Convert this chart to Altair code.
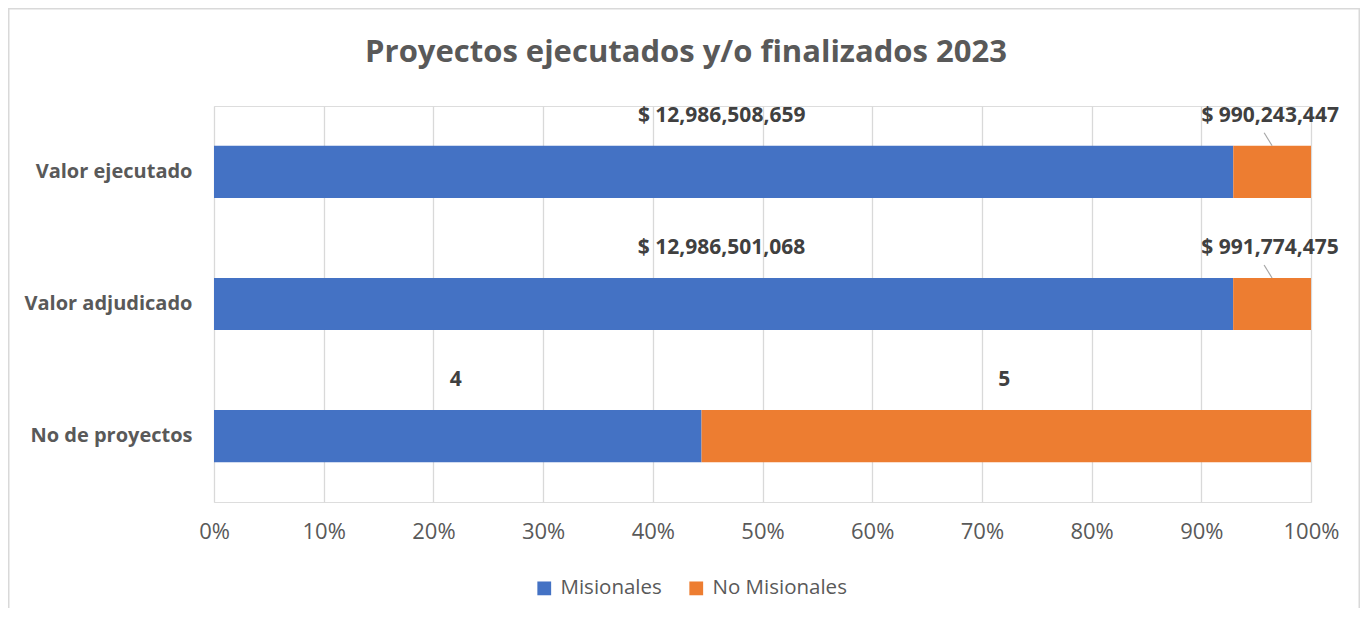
import altair as alt
import pandas as pd

title_text = "Proyectos ejecutados y/o finalizados 2023"
categories = ["Valor ejecutado", "Valor adjudicado", "No de proyectos"]
series = ["Misionales", "No Misionales"]
misionales = [12986508659, 12986501068, 4]
no_misionales = [990243447, 991774475, 5]
labels_mis = ["$ 12,986,508,659", "$ 12,986,501,068", "4"]
labels_no = ["$ 990,243,447", "$ 991,774,475", "5"]
leader = [True, True, False]
x_ticks = [0, 0.1, 0.2, 0.3, 0.4, 0.5, 0.6, 0.7, 0.8, 0.9, 1.0]

rows = []
for i, c in enumerate(categories):
    rows.append({"cat": c, "serie": series[0], "value": misionales[i], "label": labels_mis[i], "order": 0, "leader": False})
    rows.append({"cat": c, "serie": series[1], "value": no_misionales[i], "label": labels_no[i], "order": 1, "leader": leader[i]})
df = pd.DataFrame(rows)

FONT = "Open Sans"
GRAY = "#595959"

base = alt.Chart(df).transform_stack(
    stack="value", groupby=["cat"], sort=[alt.SortField("order")],
    as_=["v0", "v1"], offset="normalize"
).transform_calculate(mid="(datum.v0 + datum.v1) / 2")

y_enc = alt.Y("cat:N", sort=categories, title=None,
              scale=alt.Scale(paddingInner=0.605, paddingOuter=0.3),
              axis=alt.Axis(labelFont=FONT, labelFontSize=20, labelFontWeight="bold",
                            labelColor=GRAY, labelPadding=22, ticks=False, domain=False))

bars = base.mark_bar().encode(
    x=alt.X("v0:Q", title=None, scale=alt.Scale(domain=[0, 1], nice=False),
            axis=alt.Axis(format=".0%", values=x_ticks, labelFont=FONT, labelFontSize=22,
                          labelColor=GRAY, labelPadding=19, labelFlush=False, ticks=False,
                          domain=False, gridColor="#d9d9d9", gridWidth=1.3)),
    x2="v1:Q",
    y=y_enc,
    color=alt.Color("serie:N", scale=alt.Scale(domain=series, range=["#4472C4", "#ED7D31"]),
                    legend=alt.Legend(title=None, orient="none", legendX=320, legendY=472,
                                      direction="horizontal", symbolType="square", symbolSize=190,
                                      symbolStrokeWidth=0, labelFont=FONT, labelFontSize=20.5,
                                      labelColor=GRAY, labelOffset=6, columnPadding=24)),
)

text = base.mark_text(font=FONT, fontSize=21, fontWeight="bold", color="#404040",
                      baseline="middle", dy=-56, dx=-2).encode(
    x=alt.X("mid:Q"),
    y=alt.Y("cat:N", sort=categories),
    text="label:N",
)

lines = base.transform_filter("datum.leader").mark_rule(
    color="#a6a6a6", strokeWidth=1.2, yOffset=-26, y2Offset=-39, x2Offset=-8
).encode(
    x="mid:Q", x2="mid:Q",
    y=alt.Y("cat:N", sort=categories), y2="cat:N",
)

frame = alt.Chart(pd.DataFrame({"k": [0]})).mark_rect(
    fill="white", fillOpacity=0, stroke="#d9d9d9", strokeWidth=1.5
).encode(x=alt.value(-205.25), x2=alt.value(1145.25), y=alt.value(-97.25), y2=alt.value(620))

title = alt.Chart(pd.DataFrame({"t": [title_text]})).mark_text(
    font=FONT, fontSize=31, fontWeight="bold", color=GRAY, align="center", baseline="middle"
).encode(x=alt.value(472), y=alt.value(-53), text="t:N")

chart = alt.layer(frame, bars, lines, text, title).properties(
    width=1097, height=396,
    autosize=alt.AutoSizeParams(type="none"),
    padding={"left": 206, "top": 98, "right": 49, "bottom": 106},
).configure_view(stroke=None).configure(background="white")

chart.save("out.html", embed_options={"renderer": "svg", "actions": False})
